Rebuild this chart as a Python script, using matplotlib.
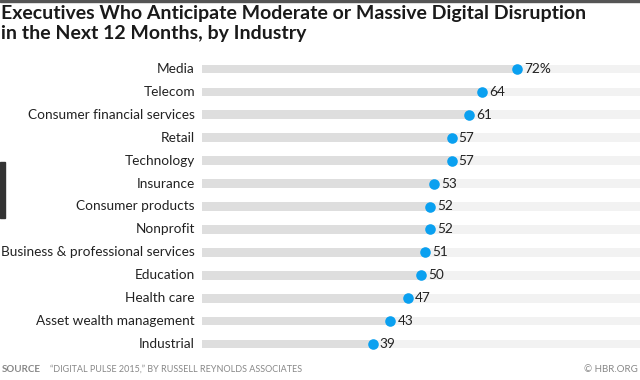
import matplotlib
matplotlib.use("Agg")
import matplotlib.pyplot as plt
from matplotlib.patches import Rectangle

industries = ["Media", "Telecom", "Consumer financial services", "Retail", "Technology",
              "Insurance", "Consumer products", "Nonprofit", "Business & professional services",
              "Education", "Health care", "Asset wealth management", "Industrial"]
values = [72, 64, 61, 57, 57, 53, 52, 52, 51, 50, 47, 43, 39]
value_labels = ["72%", "64", "61", "57", "57", "53", "52", "52", "51", "50", "47", "43", "39"]
axis_max = 100

W, H = 640, 380
fig = plt.figure(figsize=(W / 100, H / 100), dpi=100)
fig.patch.set_facecolor("white")

top_px, bot_px = 57.5, 355.5
left_px = 202
ax = fig.add_axes([left_px / W, 1 - bot_px / H, 1 - left_px / W, (bot_px - top_px) / H])
ax.set_xlim(0, axis_max)
n = len(industries)
ax.set_ylim(n - 0.5, -0.5)
ax.axis("off")

bar_h = 0.38
for i, (name, v, lab) in enumerate(zip(industries, values, value_labels)):
    ax.barh(i, axis_max, height=bar_h, color="#f2f2f2", zorder=1)
    ax.barh(i, v, height=bar_h, color="#dedede", zorder=2)
    ax.scatter([v], [i], s=58, color="#0aa0f0", zorder=3, linewidths=0)
    ax.text(v + 1.6, i, lab, va="center", ha="left", fontsize=9.8, color="#222222",
            family="Lato")
    ax.text(-1.6, i, name, va="center", ha="right", fontsize=9.8, color="#222222",
            family="Lato", clip_on=False)

# title
fig.text(1 / W, 1 - 13 / H, "Executives Who Anticipate Moderate or Massive Digital Disruption",
         fontsize=14, fontweight="bold", color="#1a1a1a", va="center", ha="left", family="Lato")
fig.text(1 / W, 1 - 33 / H, "in the Next 12 Months, by Industry",
         fontsize=14, fontweight="bold", color="#1a1a1a", va="center", ha="left", family="Lato")

# footer
fig.text(2 / W, 1 - 369 / H, "SOURCE", fontsize=7, fontweight="bold", color="#888888",
         va="center", ha="left", family="Lato")
fig.text(50 / W, 1 - 369 / H, "\u201cDIGITAL PULSE 2015,\u201d BY RUSSELL REYNOLDS ASSOCIATES",
         fontsize=6.5, color="#888888", va="center", ha="left", family="Lato")
fig.text(638 / W, 1 - 369 / H, "\u00a9 HBR.ORG", fontsize=7, color="#888888",
         va="center", ha="right", family="Lato")

# decorations: top rule and left tab
fig.add_artist(Rectangle((0, 1 - 1.5 / H), 1, 1.5 / H, transform=fig.transFigure,
                         color="#555555", zorder=0))
fig.add_artist(Rectangle((0, 1 - 218 / H), 5 / W, 56 / H, transform=fig.transFigure,
                         color="#333333", zorder=0))

fig.savefig("out.png", dpi=100, facecolor="white")
